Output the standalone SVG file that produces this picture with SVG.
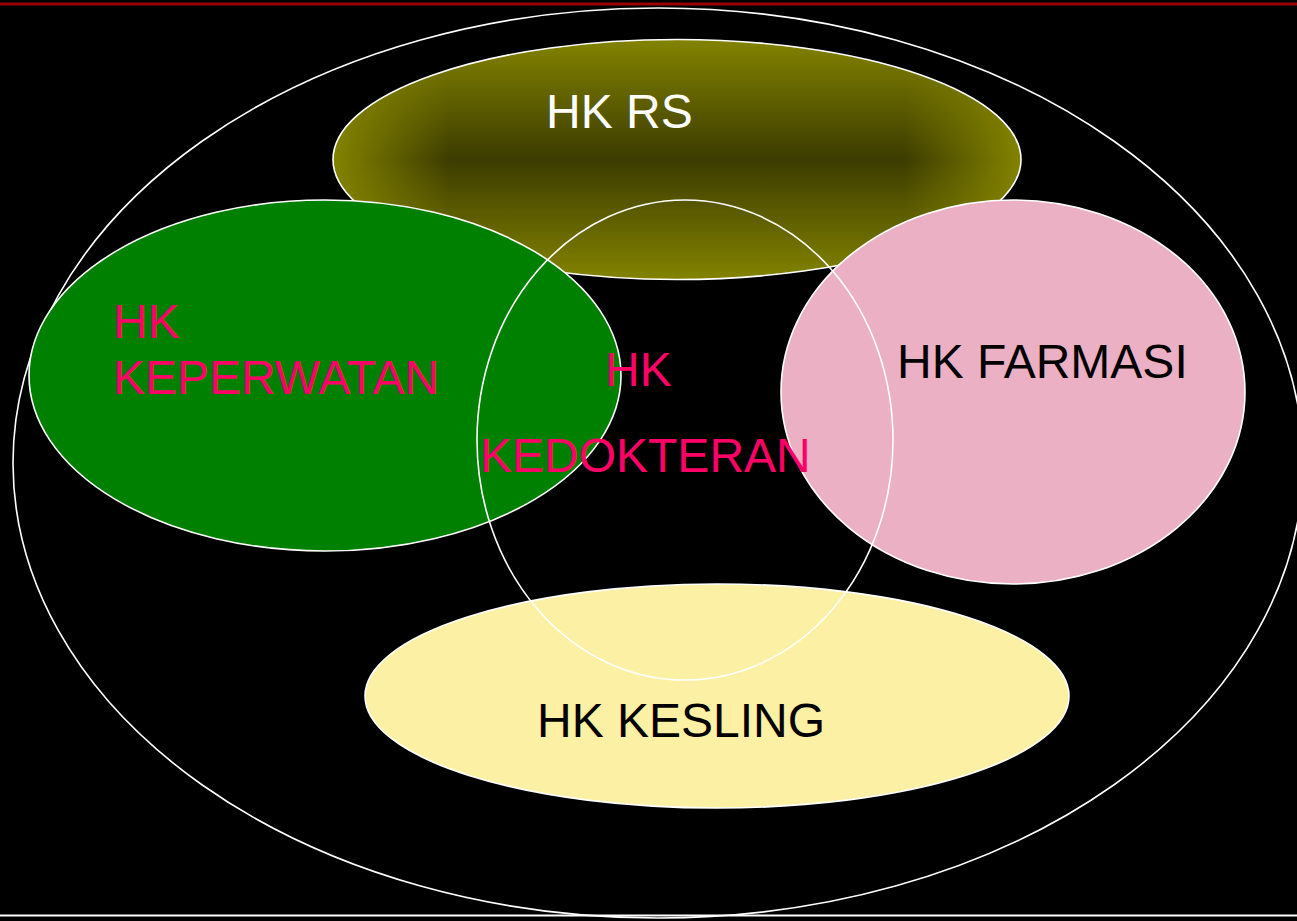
<svg xmlns="http://www.w3.org/2000/svg" width="1297" height="921" viewBox="0 0 1297 921">
  <defs>
    <linearGradient id="olV" x1="0" y1="0" x2="0" y2="1">
      <stop offset="0" stop-color="#838300"/>
      <stop offset="0.5" stop-color="#3c3c00"/>
      <stop offset="1" stop-color="#838300"/>
    </linearGradient>
    <linearGradient id="olH" x1="0" y1="0" x2="1" y2="0">
      <stop offset="0" stop-color="#838300" stop-opacity="1"/>
      <stop offset="0.17" stop-color="#838300" stop-opacity="0"/>
      <stop offset="0.83" stop-color="#838300" stop-opacity="0"/>
      <stop offset="1" stop-color="#838300" stop-opacity="1"/>
    </linearGradient>
    <style>
      .edge { stroke: #ffffff; stroke-width: 1.6; }
      .lbl { font-family: "Liberation Sans", Arial, sans-serif; font-size: 48px; }
      .pinkTxt { fill: #ff0066; }
    </style>
  </defs>
  <rect x="0" y="0" width="1297" height="921" fill="#000000"/>
  <rect x="0" y="2.5" width="1297" height="3" fill="#990000"/>
  <rect x="0" y="914.5" width="1297" height="2" fill="#ffffff"/>

  <g id="outer">
    <ellipse cx="658" cy="463" rx="645" ry="455" fill="none" class="edge" stroke-width="2"/>
  </g>
  <g id="hk-rs">
    <ellipse cx="677" cy="159.5" rx="344" ry="120" fill="url(#olV)"/>
    <ellipse cx="677" cy="159.5" rx="344" ry="120" fill="url(#olH)" class="edge"/>
    <text x="546" y="128" class="lbl" fill="#ffffff">HK RS</text>
  </g>
  <g id="hk-keperawatan">
    <ellipse cx="325" cy="375.5" rx="296" ry="175.5" fill="#008000" class="edge"/>
  </g>
  <g id="hk-farmasi">
    <ellipse cx="1013" cy="392" rx="232" ry="192" fill="#ebb0c4" class="edge"/>
    <text x="897" y="378" class="lbl" fill="#000000">HK FARMASI</text>
  </g>
  <g id="hk-kesling">
    <ellipse cx="717" cy="696" rx="352" ry="112" fill="#fbf0a3" class="edge"/>
    <text x="537" y="737" class="lbl" fill="#000000">HK KESLING</text>
  </g>
  <g id="hk-kedokteran">
    <ellipse cx="685" cy="440" rx="208" ry="240" fill="none" class="edge"/>
  </g>
  <g id="labels">
    <text class="lbl pinkTxt" x="113" y="338">HK</text>
    <text class="lbl pinkTxt" x="113" y="394">KEPERWATAN</text>
    <text class="lbl pinkTxt" x="605" y="386">HK</text>
    <text class="lbl pinkTxt" x="480" y="472">KEDOKTERAN</text>
  </g>
  <g id="connectors"/>
</svg>
